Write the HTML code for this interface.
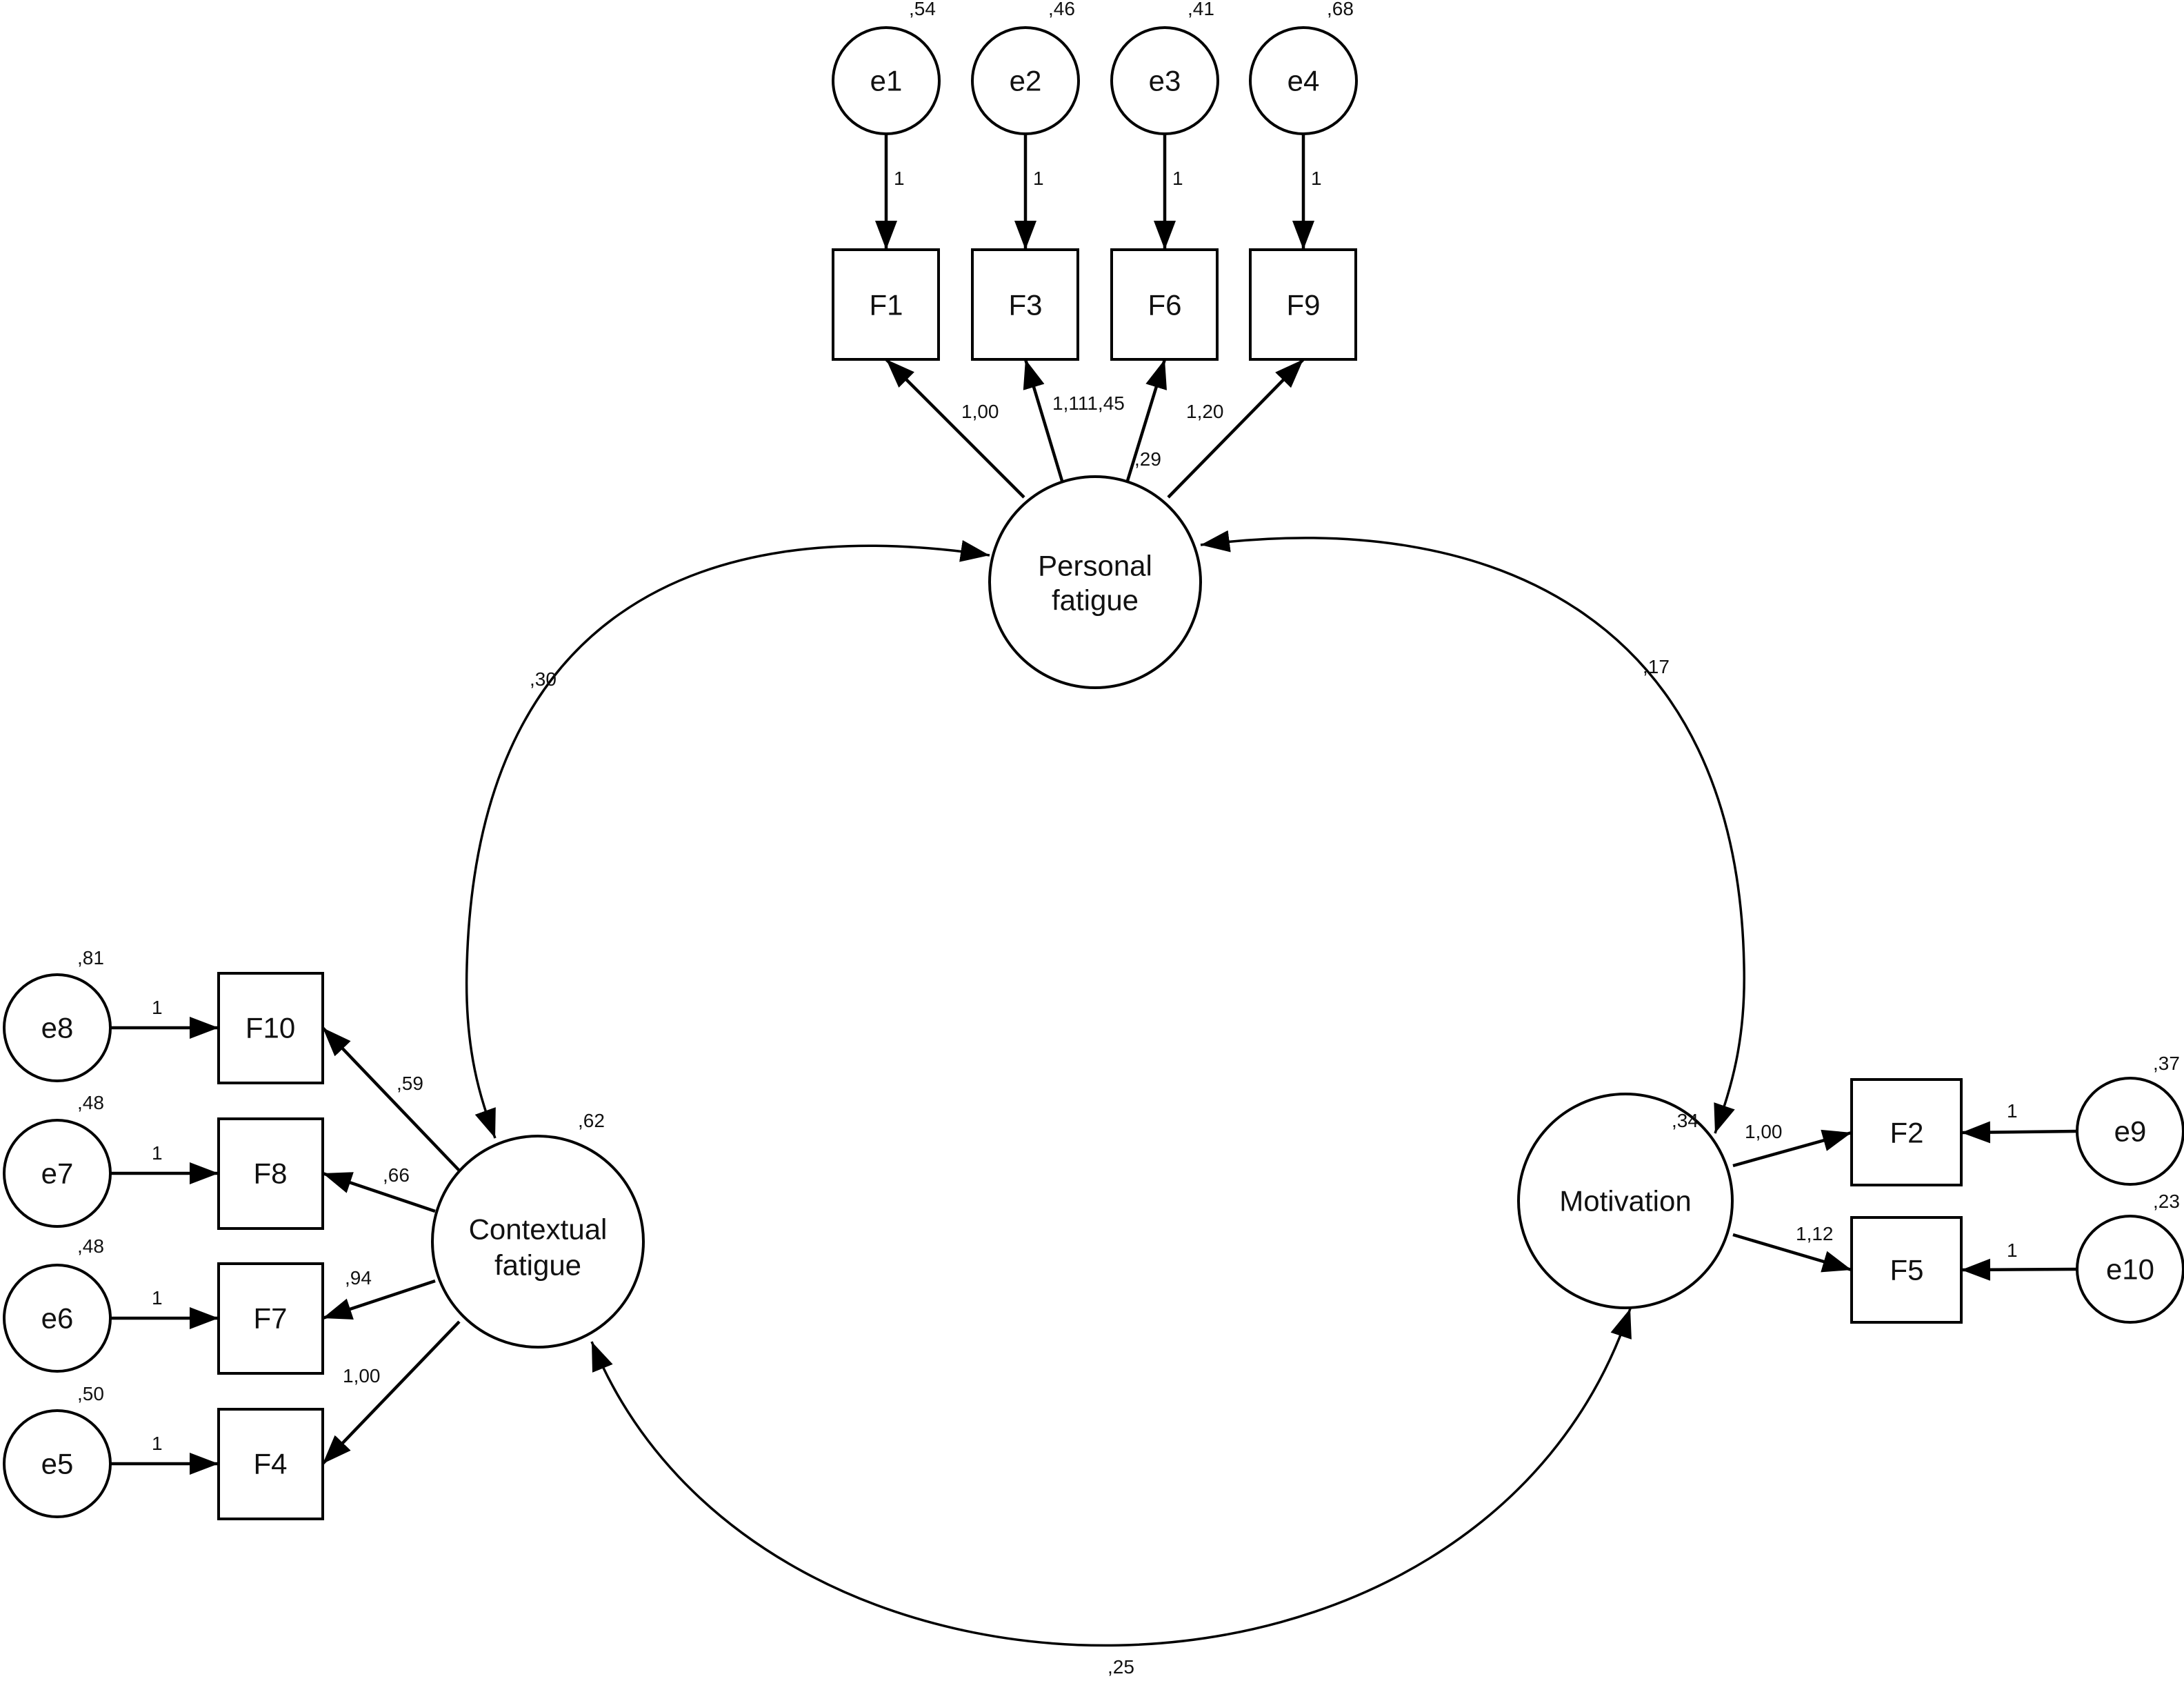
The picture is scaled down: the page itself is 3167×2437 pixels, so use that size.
<!DOCTYPE html>
<html><head><meta charset="utf-8"><style>
html,body{margin:0;padding:0;background:#fff;}
svg{display:block;}
text{font-family:"Liberation Sans",Arial,sans-serif;fill:#111;}
.n{font-size:42px;text-anchor:middle;dominant-baseline:central;}
.s{font-size:28px;}
</style></head><body>
<svg width="3167" height="2437" viewBox="0 0 3167 2437" xmlns="http://www.w3.org/2000/svg">
<defs>
<marker id="a" markerUnits="userSpaceOnUse" markerWidth="44" markerHeight="34" refX="42" refY="16" orient="auto-start-reverse">
<path d="M0,0 L42,16 L0,32 z" fill="#000"/>
</marker>
</defs>
<g fill="#fff" stroke="#000" stroke-width="4">
<!-- top errors -->
<circle cx="1285" cy="117" r="77"/><circle cx="1487" cy="117" r="77"/><circle cx="1689" cy="117" r="77"/><circle cx="1890" cy="117" r="77"/>
<rect x="1208" y="362" width="153" height="159"/><rect x="1410" y="362" width="153" height="159"/><rect x="1612" y="362" width="153" height="159"/><rect x="1813" y="362" width="153" height="159"/>
<circle cx="1588" cy="844" r="153"/>
<!-- left -->
<circle cx="83" cy="1490" r="77"/><circle cx="83" cy="1701" r="77"/><circle cx="83" cy="1911" r="77"/><circle cx="83" cy="2122" r="77"/>
<rect x="317" y="1411" width="151" height="159"/><rect x="317" y="1622" width="151" height="159"/><rect x="317" y="1832" width="151" height="159"/><rect x="317" y="2043" width="151" height="159"/>
<circle cx="780" cy="1800" r="153"/>
<!-- right -->
<circle cx="2357" cy="1741" r="155"/>
<rect x="2685" y="1565" width="159" height="153"/><rect x="2685" y="1765" width="159" height="152"/>
<circle cx="3089" cy="1640" r="77"/><circle cx="3089" cy="1840" r="77"/>
</g>
<g stroke="#000" stroke-width="4.5" fill="none" marker-end="url(#a)">
<line x1="1285" y1="195" x2="1285" y2="362"/><line x1="1487" y1="195" x2="1487" y2="362"/><line x1="1689" y1="195" x2="1689" y2="362"/><line x1="1890" y1="195" x2="1890" y2="362"/>
<line x1="1485" y1="721" x2="1285" y2="521"/><line x1="1540" y1="697" x2="1487" y2="521"/><line x1="1635" y1="697" x2="1689" y2="521"/><line x1="1694" y1="721" x2="1890" y2="521"/>
<line x1="161" y1="1490" x2="317" y2="1490"/><line x1="161" y1="1701" x2="317" y2="1701"/><line x1="161" y1="1911" x2="317" y2="1911"/><line x1="161" y1="2122" x2="317" y2="2122"/>
<line x1="666" y1="1697" x2="468" y2="1490"/><line x1="631" y1="1756" x2="468" y2="1701"/><line x1="631" y1="1857" x2="468" y2="1911"/><line x1="666" y1="1916" x2="468" y2="2122"/>
<line x1="2513" y1="1690" x2="2685" y2="1642"/><line x1="2513" y1="1790" x2="2685" y2="1841"/>
<line x1="3012" y1="1640" x2="2844" y2="1642"/><line x1="3012" y1="1840" x2="2844" y2="1841"/>
</g>
<g stroke="#000" stroke-width="3.5" fill="none" marker-start="url(#a)" marker-end="url(#a)">
<path d="M1435,805 C1000,740 690,900 677,1400 C673,1530 700,1600 718,1650"/>
<path d="M1741,790 C2170,735 2520,900 2529,1400 C2532,1520 2505,1590 2487,1643"/>
<path d="M858,1945 C1100,2540 2150,2540 2364,1897"/>
</g>
<g class="n">
<text x="1285" y="117">e1</text><text x="1487" y="117">e2</text><text x="1689" y="117">e3</text><text x="1890" y="117">e4</text>
<text x="1285" y="442">F1</text><text x="1487" y="442">F3</text><text x="1689" y="442">F6</text><text x="1890" y="442">F9</text>
<text x="1588" y="820">Personal</text><text x="1588" y="870">fatigue</text>
<text x="83" y="1490">e8</text><text x="83" y="1701">e7</text><text x="83" y="1911">e6</text><text x="83" y="2122">e5</text>
<text x="392" y="1490">F10</text><text x="392" y="1701">F8</text><text x="392" y="1911">F7</text><text x="392" y="2122">F4</text>
<text x="780" y="1782">Contextual</text><text x="780" y="1834">fatigue</text>
<text x="2357" y="1741">Motivation</text>
<text x="2765" y="1642">F2</text><text x="2765" y="1841">F5</text>
<text x="3089" y="1640">e9</text><text x="3089" y="1840">e10</text>
</g>
<g class="s">
<text x="1318" y="22">,54</text><text x="1520" y="22">,46</text><text x="1722" y="22">,41</text><text x="1924" y="22">,68</text>
<text x="1296" y="268">1</text><text x="1498" y="268">1</text><text x="1700" y="268">1</text><text x="1901" y="268">1</text>
<text x="1394" y="606">1,00</text><text x="1526" y="594">1,111,45</text><text x="1645" y="675">,29</text><text x="1720" y="606">1,20</text>
<text x="768" y="994">,30</text><text x="2382" y="976">,17</text><text x="1606" y="2426">,25</text>
<text x="838" y="1634">,62</text><text x="2424" y="1634">,34</text>
<text x="112" y="1398">,81</text><text x="112" y="1608">,48</text><text x="112" y="1816">,48</text><text x="112" y="2030">,50</text>
<text x="220" y="1470">1</text><text x="220" y="1681">1</text><text x="220" y="1891">1</text><text x="220" y="2102">1</text>
<text x="575" y="1580">,59</text><text x="555" y="1713">,66</text><text x="500" y="1862">,94</text><text x="497" y="2004">1,00</text>
<text x="2530" y="1650">1,00</text><text x="2604" y="1798">1,12</text>
<text x="2910" y="1620">1</text><text x="2910" y="1822">1</text>
<text x="3122" y="1551">,37</text><text x="3122" y="1751">,23</text>
</g>
</svg>
</body></html>
